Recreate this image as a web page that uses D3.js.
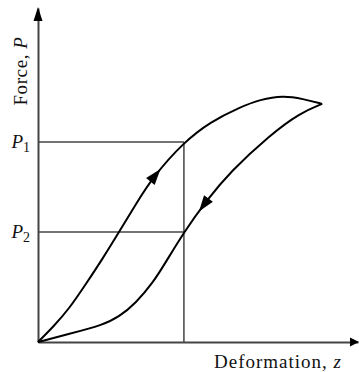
<!DOCTYPE html>
<html>
<head>
<meta charset="utf-8">
<script src="https://cdn.jsdelivr.net/npm/d3@7/dist/d3.min.js"></script>
<style>
body { margin: 0; background: #fff; }
svg { display: block; }
text { font-family: "Liberation Serif", "Times New Roman", serif; fill: #111; }
</style>
</head>
<body>
<script>
const width = 359;
const height = 372;

// loading branch, origin -> peak -> end (z, P)
const loading = [[0, 0], [0.47, 0.45], [0.97, 0.99], [1.5, 1.74], [2.03, 2.51],
                 [2.53, 3.29], [3.06, 4.13], [3.59, 4.94], [4.56, 5.99], [5.4, 6.6],
                 [6.31, 7.03], [6.94, 7.26], [7.66, 7.38], [8.28, 7.28], [8.88, 7.13]];
// unloading branch, end -> back to origin
const unloading = [[8.88, 7.13], [8.19, 6.86], [7.25, 6.20], [6.0, 5.09], [5.28, 4.25],
                   [4.56, 3.29], [4.0, 2.40], [3.59, 1.77], [3.06, 1.17], [2.53, 0.75],
                   [2.03, 0.51], [0.97, 0.24], [0, 0]];

const P1 = 5.99;
const P2 = 3.29;
const zMark = 4.56;
const forceTicks = [P1, P2];
const forceNames = ["1", "2"];
// where the direction arrows sit (tip positions)
const arrowTips = [[3.78, 5.21], [5.06, 3.89]];

const x = d3.scaleLinear().domain([0, 10]).range([38, 358]);
const y = d3.scaleLinear().domain([0, 10]).range([342, 8]);

const svg = d3.select("body")
              .append("svg")
              .attr("width", width)
              .attr("height", height);

// guide lines
const guides = svg.append("g")
                  .attr("stroke", "#444")
                  .attr("stroke-width", 1.5)
                  .attr("fill", "none");
forceTicks.forEach(p => {
    guides.append("line")
          .attr("x1", x(0)).attr("x2", x(zMark))
          .attr("y1", y(p)).attr("y2", y(p));
});
guides.append("line")
      .attr("x1", x(zMark)).attr("x2", x(zMark))
      .attr("y1", y(0)).attr("y2", y(P1));

// axes (no ticks, just the lines)
const xAxis = svg.append("g")
   .attr("transform", "translate(0," + y(0) + ")")
   .call(d3.axisBottom(x).tickValues([]).tickSizeOuter(0));
const yAxis = svg.append("g")
   .attr("transform", "translate(" + x(0) + ",0)")
   .call(d3.axisLeft(y).tickValues(forceTicks).tickSize(0).tickPadding(8).tickFormat(""));

[xAxis, yAxis].forEach(a => a.select(".domain").attr("stroke", "#444").attr("stroke-width", 2));

yAxis.selectAll(".tick text")
     .attr("font-size", 19)
     .attr("dy", "0.3em")
     .each(function(d, i) {
         const t = d3.select(this);
         t.append("tspan").attr("font-style", "italic").text("P");
         t.append("tspan").attr("font-size", 14).attr("dy", 4).text(forceNames[i]);
     });

// axis arrowheads
svg.append("path")
   .attr("d", "M" + x(0) + "," + (y(10) - 1) + "l-4.5,14h9z")
   .attr("fill", "#000");
svg.append("path")
   .attr("d", "M" + (x(10) + 1) + "," + y(0) + "l-9,-4.5v9z")
   .attr("fill", "#000");

// axis titles
svg.append("text")
   .attr("transform", "translate(27,71) rotate(-90)")
   .attr("text-anchor", "middle")
   .attr("font-size", 19)
   .attr("letter-spacing", 0.6)
   .html('Force, <tspan font-style="italic">P</tspan>');

svg.append("text")
   .attr("x", 278)
   .attr("y", 368)
   .attr("text-anchor", "middle")
   .attr("font-size", 19)
   .attr("letter-spacing", 1)
   .html('Deformation, <tspan font-style="italic">z</tspan>');

// curves (drawn with x ascending, arrows point along travel direction)
const line = d3.line()
               .x(d => x(d[0]))
               .y(d => y(d[1]))
               .curve(d3.curveBasis);

const branches = [
    { data: loading, dir: 1 },
    { data: unloading.slice().reverse(), dir: -1 }
];

branches.forEach((br, i) => {
    const p = svg.append("path")
       .datum(br.data)
       .attr("d", line)
       .attr("fill", "none")
       .attr("stroke", "#000")
       .attr("stroke-width", 2)
       .node();

    const total = p.getTotalLength();
    const tx = x(arrowTips[i][0]), ty = y(arrowTips[i][1]);
    let best = 0, bestD = Infinity;
    for (let l = 0; l <= total; l += 0.5) {
        const pt = p.getPointAtLength(l);
        const dd = (pt.x - tx) ** 2 + (pt.y - ty) ** 2;
        if (dd < bestD) { bestD = dd; best = l; }
    }
    const a = p.getPointAtLength(best - 3 * br.dir);
    const b = p.getPointAtLength(best);
    const ang = Math.atan2(b.y - a.y, b.x - a.x) * 180 / Math.PI;
    svg.append("path")
       .attr("d", "M0,0L-16,-5.5L-16,5.5Z")
       .attr("transform", "translate(" + b.x + "," + b.y + ") rotate(" + ang + ")")
       .attr("fill", "#000");
});
</script>
</body>
</html>
